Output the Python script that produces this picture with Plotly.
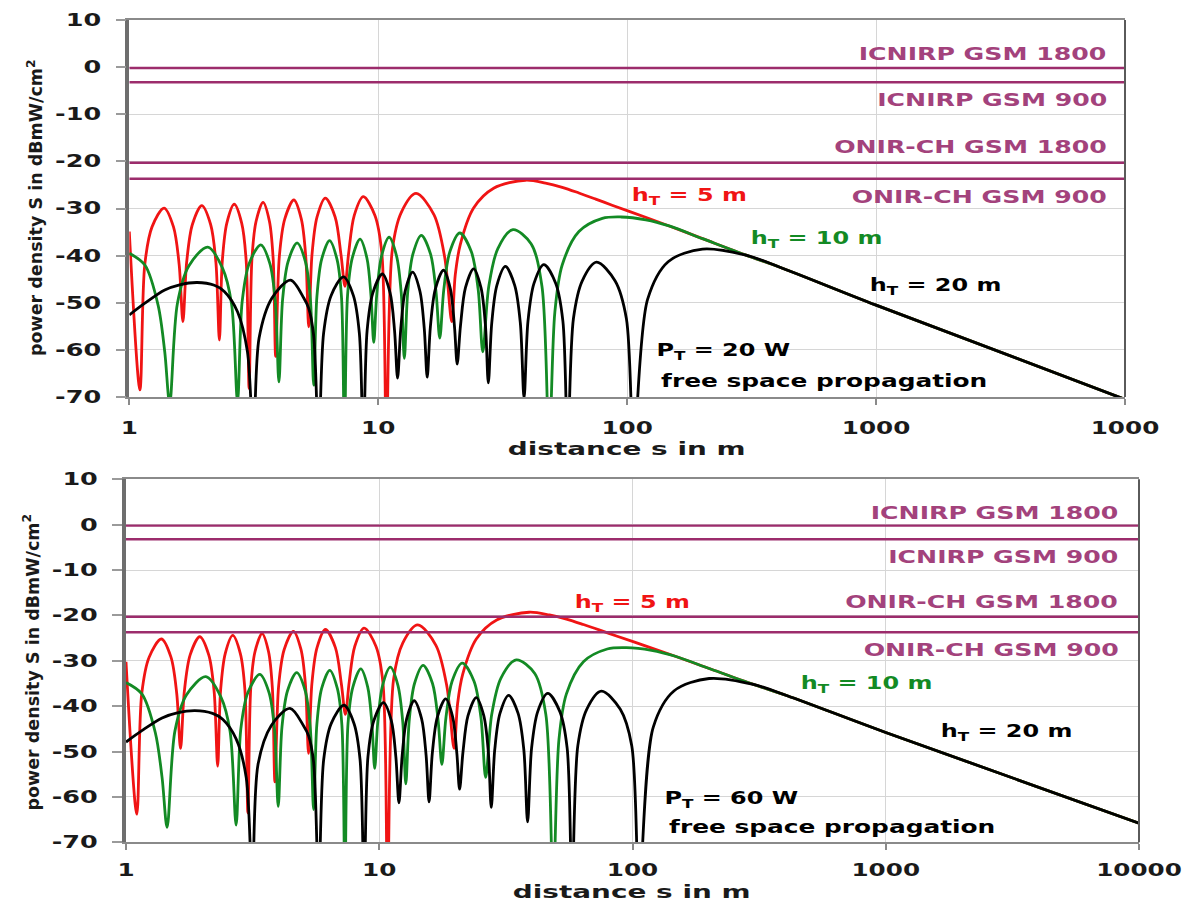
import plotly.graph_objects as go

# ---------------- data ----------------
# distance s in m (shared by the 20 W and 60 W panels)
dist_5m = [1, 1.103, 1.154, 1.234, 1.379, 1.505, 1.586, 1.642, 1.700, 1.792, 1.955, 2.122, 2.228, 2.301, 2.364,
           2.465, 2.640, 2.828, 2.948, 3.029, 3.109, 3.231, 3.446, 3.655, 3.784, 3.873, 4.006, 4.214, 4.582, 4.908,
           5.115, 5.258, 5.419, 5.679, 6.130, 6.712, 7.087, 7.351, 7.605, 8.007, 8.713, 9.702, 10.34, 10.79, 11.39,
           12.38, 14.19, 16.74, 18.49, 19.75, 20.39, 21.35, 24.16, 29.09, 39.05, 47.0, 54.83, 64.0, 74.77, 87.0,
           101.9, 147.5, 200.8, 300.1, 408.4, 1000, 10000]
dist_10m = [1, 1.155, 1.305, 1.388, 1.453, 1.560, 1.734, 2.066, 2.371, 2.575, 2.721, 2.841, 3.029, 3.374, 3.671,
            3.858, 3.991, 4.129, 4.343, 4.721, 5.101, 5.340, 5.505, 5.669, 5.924, 6.376, 6.831, 7.119, 7.318, 7.529,
            7.867, 8.453, 9.005, 9.352, 9.595, 9.870, 10.31, 11.06, 11.85, 12.38, 12.73, 13.14, 13.78, 14.90, 16.23,
            17.07, 17.67, 18.34, 19.39, 21.27, 23.67, 25.21, 26.31, 27.81, 30.24, 34.76, 41.12, 45.47, 48.60, 51.24,
            54.83, 64.01, 79.49, 94.55, 118.9, 147.5, 200.8, 300.1, 408.4, 1000, 10000]
dist_20m = [1, 1.155, 1.388, 1.593, 1.871, 2.197, 2.408, 2.721, 2.983, 3.152, 3.322, 3.743, 4.444, 5.022, 5.258,
            5.505, 5.764, 6.033, 6.464, 7.252, 7.948, 8.399, 8.713, 9.023, 9.516, 10.39, 11.16, 11.63, 11.96, 12.32,
            12.83, 13.74, 14.70, 15.31, 15.73, 16.20, 16.96, 18.29, 19.50, 20.25, 20.76, 21.41, 22.41, 24.16, 25.87,
            26.96, 27.69, 28.58, 29.97, 32.43, 35.34, 37.23, 38.53, 39.96, 42.24, 46.27, 51.67, 55.19, 57.70, 60.83,
            65.95, 75.33, 89.50, 99.32, 106.3, 120.8, 146.1, 200.8, 300.1, 408.4, 1000, 10000]

# power density S in dBmW/cm2, P_T = 20 W
s20_5m = [-34.9, -68.5, -41.9, -33.9, -29.9, -33.9, -41.9, -54.0, -41.4, -33.4, -29.4, -33.4, -41.4, -57.9, -41.1,
          -33.1, -29.1, -33.1, -41.1, -68.2, -40.7, -32.7, -28.7, -32.7, -40.7, -61.4, -40.2, -32.2, -28.2, -32.2,
          -40.2, -55.1, -39.8, -31.8, -27.8, -31.8, -39.8, -46.5, -39.5, -31.5, -27.5, -31.5, -39.5, -80, -38.8,
          -30.8, -26.8, -31.3, -40.3, -54.0, -44.1, -37.7, -29.9, -25.7, -24.0, -24.6, -25.5, -26.7, -28.0, -29.3,
          -30.6, -33.7, -36.4, -39.9, -42.4, -50.5, -70.5]
s20_10m = [-39.5, -42.0, -50.5, -60.4, -71.4, -50.2, -42.2, -38.2, -42.7, -50.2, -70.9, -49.7, -41.7, -37.7, -41.7,
           -49.7, -66.8, -49.3, -41.3, -37.3, -41.3, -49.3, -67.5, -48.8, -40.8, -36.8, -40.8, -48.8, -80, -48.5,
           -40.5, -36.5, -40.5, -48.5, -58.4, -48.1, -40.1, -36.1, -40.1, -48.1, -61.8, -47.7, -39.7, -35.7, -39.7,
           -47.7, -57.5, -47.2, -39.2, -35.2, -39.2, -47.2, -60.4, -46.5, -38.5, -34.5, -37.5, -46.5, -80, -52.0,
           -42.0, -34.9, -32.1, -31.8, -32.4, -33.7, -36.4, -39.9, -42.4, -50.5, -70.5]
s20_20m = [-52.6, -50.1, -47.3, -46.2, -45.7, -46.3, -47.6, -51.9, -60.4, -80, -57.5, -49.0, -45.2, -49.0, -51.2,
           -57.0, -80, -56.5, -48.5, -44.5, -48.5, -56.5, -80, -55.9, -47.9, -43.9, -47.9, -55.9, -66.0, -55.5,
           -47.5, -43.5, -47.5, -55.5, -65.8, -55.1, -47.1, -43.1, -47.1, -55.1, -63.0, -54.8, -46.8, -42.8, -46.8,
           -54.8, -67.0, -54.3, -46.3, -42.3, -46.3, -54.3, -70.2, -53.9, -45.9, -41.9, -45.9, -53.9, -80, -53.4,
           -45.4, -41.4, -45.4, -53.4, -80, -49.3, -41.3, -38.6, -39.9, -42.4, -50.5, -70.5]

# power density S in dBmW/cm2, P_T = 60 W
s60_5m = [-30.2, -63.8, -37.2, -29.2, -25.2, -29.2, -37.2, -49.3, -36.7, -28.7, -24.7, -28.7, -36.7, -53.2, -36.4,
          -28.4, -24.4, -28.4, -36.4, -63.5, -36.0, -28.0, -24.0, -28.0, -36.0, -56.7, -35.5, -27.5, -23.5, -27.5,
          -35.5, -50.4, -35.1, -27.1, -23.1, -27.1, -35.1, -41.8, -34.8, -26.8, -22.8, -26.8, -34.8, -80, -34.1,
          -26.1, -22.1, -26.6, -35.6, -49.3, -39.4, -33.0, -25.2, -21.0, -19.3, -19.9, -20.8, -22.0, -23.3, -24.6,
          -25.9, -29.0, -31.7, -35.2, -37.7, -45.8, -65.8]
s60_10m = [-34.8, -37.3, -45.8, -55.7, -66.7, -45.5, -37.5, -33.5, -38.0, -45.5, -66.2, -45.0, -37.0, -33.0, -37.0,
           -45.0, -62.1, -44.6, -36.6, -32.6, -36.6, -44.6, -62.8, -44.1, -36.1, -32.1, -36.1, -44.1, -80, -43.8,
           -35.8, -31.8, -35.8, -43.8, -53.7, -43.4, -35.4, -31.4, -35.4, -43.4, -57.1, -43.0, -35.0, -31.0, -35.0,
           -43.0, -52.8, -42.5, -34.5, -30.5, -34.5, -42.5, -55.7, -41.8, -33.8, -29.8, -32.8, -41.8, -80, -47.3,
           -37.3, -30.2, -27.4, -27.1, -27.7, -29.0, -31.7, -35.2, -37.7, -45.8, -65.8]
s60_20m = [-47.9, -45.4, -42.6, -41.5, -41.0, -41.6, -42.9, -47.2, -55.7, -80, -52.8, -44.3, -40.5, -44.3, -46.5,
           -52.3, -80, -51.8, -43.8, -39.8, -43.8, -51.8, -80, -51.2, -43.2, -39.2, -43.2, -51.2, -61.3, -50.8,
           -42.8, -38.8, -42.8, -50.8, -61.1, -50.4, -42.4, -38.4, -42.4, -50.4, -58.3, -50.1, -42.1, -38.1, -42.1,
           -50.1, -62.3, -49.6, -41.6, -37.6, -41.6, -49.6, -65.5, -49.2, -41.2, -37.2, -41.2, -49.2, -80, -48.7,
           -40.7, -36.7, -40.7, -48.7, -80, -44.6, -36.6, -33.9, -35.2, -37.7, -45.8, -65.8]

# exposure limits in dBmW/cm2
limit_names = ["ICNIRP GSM 1800", "ICNIRP GSM 900", "ONIR-CH GSM 1800", "ONIR-CH GSM 900"]
limit_values = [-0.2, -3.2, -20.3, -23.7]
limit_span = [1, 10000]

x_ticks = [1, 10, 100, 1000, 10000]
x_ticktext_top = ["1", "10", "100", "1000", "1000"]
x_ticktext_bottom = ["1", "10", "100", "1000", "10000"]
y_ticks = [-70, -60, -50, -40, -30, -20, -10, 0, 10]
y_ticktext = ["-70", "-60", "-50", "-40", "-30", "-20", "-10", "0", "10"]

# ---------------- styling ----------------
W, H = 1194, 903
RED, GREEN, BLACK = "#f01414", "#138a24", "#000000"
PURPLE_LINE, PURPLE_TEXT = "#9c2c6c", "#a3427c"
FONT = "DejaVu Sans"

fig = go.Figure()

panels = [
    dict(xa="x", ya="y", data=[(dist_5m, s20_5m, RED), (dist_10m, s20_10m, GREEN), (dist_20m, s20_20m, BLACK)]),
    dict(xa="x2", ya="y2", data=[(dist_5m, s60_5m, RED), (dist_10m, s60_10m, GREEN), (dist_20m, s60_20m, BLACK)]),
]
for p in panels:
    for xs, ys, col in p["data"]:
        fig.add_trace(go.Scatter(x=xs, y=ys, mode="lines", xaxis=p["xa"], yaxis=p["ya"],
                                 line=dict(color=col, width=2.8, shape="spline", smoothing=0.9),
                                 showlegend=False, hoverinfo="skip"))
    for v in limit_values:
        fig.add_trace(go.Scatter(x=limit_span, y=[v, v], mode="lines", xaxis=p["xa"], yaxis=p["ya"],
                                 line=dict(color=PURPLE_LINE, width=2.4), showlegend=False, hoverinfo="skip"))

tickfont = dict(family=FONT, size=17, color="#1a1a1a", weight="bold")

def xaxis_cfg(domain, anchor, ticktext, standoff):
    return dict(type="log", range=[0, 4], domain=domain, anchor=anchor, automargin=False,
                tickmode="array", tickvals=x_ticks, ticktext=ticktext,
                showgrid=True, gridcolor="#d6d6d6", gridwidth=1,
                showline=True, linecolor="#8a8a8a", linewidth=2, mirror=True,
                ticks="outside", ticklen=6, tickcolor="#8a8a8a", tickwidth=1.5,
                ticklabelstandoff=standoff, tickfont=tickfont, zeroline=False)

def yaxis_cfg(domain, anchor):
    return dict(range=[-70, 10], domain=domain, anchor=anchor, automargin=False,
                tickmode="array", tickvals=y_ticks, ticktext=y_ticktext,
                showgrid=True, gridcolor="#d6d6d6", gridwidth=1,
                showline=True, linecolor="#6e6e6e", linewidth=3.5,
                ticks="outside", ticklen=10, tickcolor="#9a9a9a", tickwidth=1.5,
                ticklabelstandoff=11, tickfont=tickfont, zeroline=False)

top_x = [129.3 / W, 1125 / W]
top_y = [1 - 397 / H, 1 - 20 / H]
bot_x = [126 / W, 1139 / W]
bot_y = [1 - 842.3 / H, 1 - 479.3 / H]

fig.update_layout(
    width=W, height=H, margin=dict(l=0, r=0, t=0, b=0, autoexpand=False),
    paper_bgcolor="white", plot_bgcolor="white", showlegend=False,
    xaxis=xaxis_cfg(top_x, "y", x_ticktext_top, 9),
    yaxis=yaxis_cfg(top_y, "x"),
    xaxis2=xaxis_cfg(bot_x, "y2", x_ticktext_bottom, 5),
    yaxis2=yaxis_cfg(bot_y, "x2"),
)

# right-hand frame edges
for xr, yr in [("x domain", "y domain"), ("x2 domain", "y2 domain")]:
    fig.add_shape(type="line", xref=xr, yref=yr, x0=1, x1=1, y0=0, y1=1,
                  line=dict(color="#5a5a5a", width=2))

def ann(text, xc, yc, color, size=18, textangle=0):
    # xc, yc: centre of the text in page pixels
    fig.add_annotation(text=text, x=xc / W, y=1 - yc / H, xref="paper", yref="paper", showarrow=False,
                       xanchor="center", yanchor="middle", textangle=textangle,
                       font=dict(family=FONT, size=size, color=color, weight="bold"))

# limit labels
for name, xc, yc in zip(limit_names, [982.5, 991.7, 970.8, 979.2], [53.3, 99.3, 146.0, 196.7]):
    ann(name, xc, yc, PURPLE_TEXT)
for name, xc, yc in zip(limit_names, [994.5, 1003.3, 981.7, 990.5], [512.3, 556.0, 601.7, 649.3]):
    ann(name, xc, yc, PURPLE_TEXT)

# curve labels, top
ann("h<sub>T</sub> = 5 m", 689.2, 195.5, RED)
ann("h<sub>T</sub> = 10 m", 816, 238.5, GREEN)
ann("h<sub>T</sub> = 20 m", 935.8, 285.8, BLACK)
ann("P<sub>T</sub> = 20 W", 723.5, 351.0, BLACK)
ann("free space propagation", 824, 380, BLACK)
# curve labels, bottom
ann("h<sub>T</sub> = 5 m", 632.5, 602.5, RED)
ann("h<sub>T</sub> = 10 m", 866.7, 683.5, GREEN)
ann("h<sub>T</sub> = 20 m", 1006.7, 731.8, BLACK)
ann("P<sub>T</sub> = 60 W", 731, 798.5, BLACK)
ann("free space propagation", 832, 826.7, BLACK)

# axis titles
ann("distance s in m", 626.5, 448.5, "#1a1a1a", size=18)
ann("distance s in m", 631.7, 891.5, "#1a1a1a", size=18)
ann("power density S in dBmW/cm<sup>2</sup>", 35, 208, "#1a1a1a", size=17.5, textangle=-90)
ann("power density S in dBmW/cm<sup>2</sup>", 31, 662.5, "#1a1a1a", size=17.5, textangle=-90)

# the reference lettering is horizontally stretched: widen texts about their anchor points
post = """
var gd = document.getElementById('{plot_id}');
function sc(t, k) {
  var x = parseFloat(t.getAttribute('x')) || 0;
  var tr = t.getAttribute('transform') || '';
  t.setAttribute('transform', tr + ' translate(' + x + ',0) scale(' + k + ',1) translate(' + (-x) + ',0)');
}
gd.querySelectorAll('g.xtick text, g.x2tick text').forEach(function(t) { sc(t, 1.45); });
gd.querySelectorAll('g.ytick text, g.y2tick text').forEach(function(t) { sc(t, 1.5); });
gd.querySelectorAll('text.annotation-text').forEach(function(t) {
  var s = t.textContent;
  if (s.indexOf('power density') >= 0) return;
  var k = 1.33;
  if (s.indexOf('GSM') >= 0) k = 1.4;
  if (s.indexOf('free space') >= 0) k = 1.38;
  if (s.indexOf('distance') >= 0) k = 1.55;
  sc(t, k);
});
"""

fig.write_html("out.html", post_script=post)
